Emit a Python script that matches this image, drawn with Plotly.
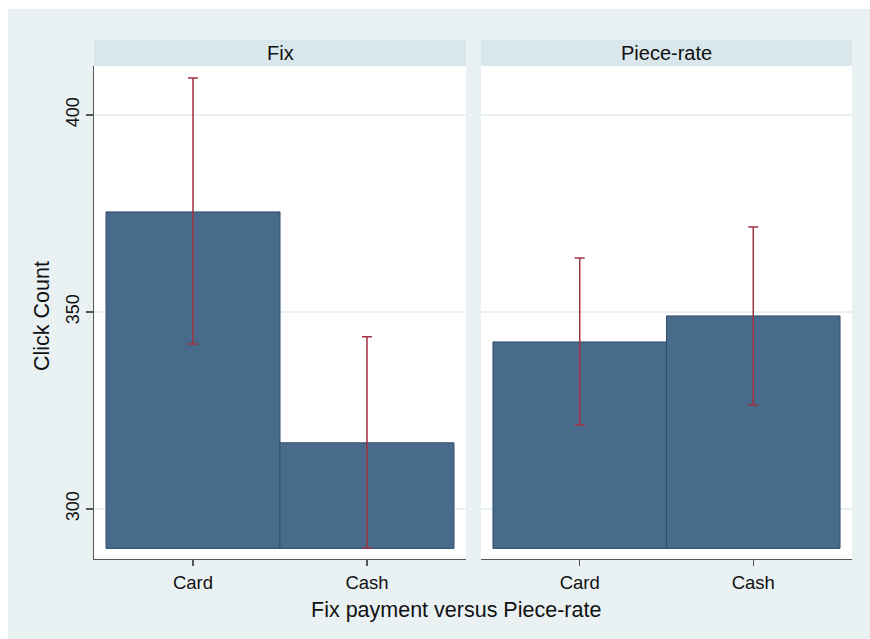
import plotly.graph_objects as go

# ---- data ----
panels = ["Fix", "Piece-rate"]
categories = ["Card", "Cash"]
means = {"Fix": [375.4, 316.8], "Piece-rate": [342.4, 349.0]}
ci_upper = {"Fix": [409.4, 343.7], "Piece-rate": [363.7, 371.6]}
ci_lower = {"Fix": [341.9, 290.1], "Piece-rate": [321.3, 326.4]}
bar_base = 290.0
y_ticks = [300, 350, 400]

W, H = 870, 639
BAR = "#486a8b"
BAR_LINE = "#2f4e6e"
ERR = "#a03241"
BG = "#e9f1f3"
HEAD = "#d9e6eb"
GRID = "#eaf1f3"
AX = "#555555"
FONT = "Liberation Sans, Arial, sans-serif"


def px(x):
    return x / W


def py(y):
    return 1 - y / H


x_domains = [(px(94), px(466)), (px(481), px(852))]
y_domain = (py(559), py(66))

fig = go.Figure()
for i, p in enumerate(panels):
    xa = "x" if i == 0 else "x2"
    ya = "y" if i == 0 else "y2"
    fig.add_trace(go.Bar(
        x=categories, y=[m - bar_base for m in means[p]], base=bar_base,
        marker=dict(color=BAR, line=dict(color=BAR_LINE, width=1)),
        xaxis=xa, yaxis=ya, showlegend=False, hoverinfo="skip"))
    fig.add_trace(go.Scatter(
        x=categories, y=means[p], mode="markers",
        marker=dict(size=1, opacity=0),
        error_y=dict(type="data", symmetric=False,
                     array=[u - m for u, m in zip(ci_upper[p], means[p])],
                     arrayminus=[m - l for m, l in zip(means[p], ci_lower[p])],
                     color=ERR, thickness=1.5, width=5),
        xaxis=xa, yaxis=ya, showlegend=False, hoverinfo="skip"))

y_range = [300 - (559 - 509) / 3.94, 400 + (115 - 66) / 3.94]
x_range = [-0.5 - 12 / 174, 1.5 + 12 / 174]

common_x = dict(range=x_range, showline=True, linecolor=AX, linewidth=1.3,
                ticks="outside", ticklen=6, tickcolor=AX, tickwidth=1.3,
                tickfont=dict(family=FONT, size=18.5, color="#111"),
                showgrid=False, zeroline=False, fixedrange=True)
common_y = dict(range=y_range, tickvals=y_ticks, showgrid=True, gridcolor=GRID,
                gridwidth=1.5, zeroline=False, fixedrange=True)

fig.update_layout(
    width=W, height=H,
    margin=dict(l=0, r=0, t=0, b=0),
    paper_bgcolor=BG,
    plot_bgcolor="white",
    bargap=0,
    hovermode=False,
    xaxis=dict(domain=x_domains[0], anchor="y", **common_x),
    xaxis2=dict(domain=x_domains[1], anchor="y2", **common_x),
    yaxis=dict(domain=y_domain, anchor="x", showline=True, linecolor=AX, linewidth=1.3,
               ticks="outside", ticklen=7, tickcolor=AX, tickwidth=1.3, tickangle=-90,
               tickfont=dict(family=FONT, size=18, color="#111"), **common_y),
    yaxis2=dict(domain=y_domain, anchor="x2", showline=False, ticks="",
                showticklabels=False, **common_y),
    font=dict(family=FONT, color="#111"),
)

# white page border on the left and top, as in the reference
shapes = [
    dict(type="rect", xref="paper", yref="paper", x0=0, x1=px(8), y0=0, y1=1,
         fillcolor="white", line=dict(width=0), layer="below"),
    dict(type="rect", xref="paper", yref="paper", x0=0, x1=1, y0=py(9), y1=1,
         fillcolor="white", line=dict(width=0), layer="below"),
]
annotations = []
for i, p in enumerate(panels):
    x0, x1 = x_domains[i]
    shapes.append(dict(type="rect", xref="paper", yref="paper", x0=x0, x1=x1,
                       y0=py(66), y1=py(40), fillcolor=HEAD, line=dict(width=0), layer="below"))
    annotations.append(dict(text=p, xref="paper", yref="paper", x=(x0 + x1) / 2, y=py(53),
                            showarrow=False, font=dict(family=FONT, size=20, color="#111"),
                            xanchor="center", yanchor="middle"))
annotations.append(dict(text="Fix payment versus Piece-rate", xref="paper", yref="paper",
                        x=px(456), y=py(610), showarrow=False,
                        font=dict(family=FONT, size=21.5, color="#111"),
                        xanchor="center", yanchor="middle"))
annotations.append(dict(text="Click Count", xref="paper", yref="paper",
                        x=px(42), y=py(316), showarrow=False, textangle=-90,
                        font=dict(family=FONT, size=21.5, color="#111"),
                        xanchor="center", yanchor="middle"))
fig.update_layout(shapes=shapes, annotations=annotations)

fig.write_html(
    "out.html",
    config={"displayModeBar": False, "staticPlot": True},
    post_script="document.body.style.margin='0';"
                "document.body.style.overflow='hidden';"
                "document.documentElement.style.overflow='hidden';",
)
